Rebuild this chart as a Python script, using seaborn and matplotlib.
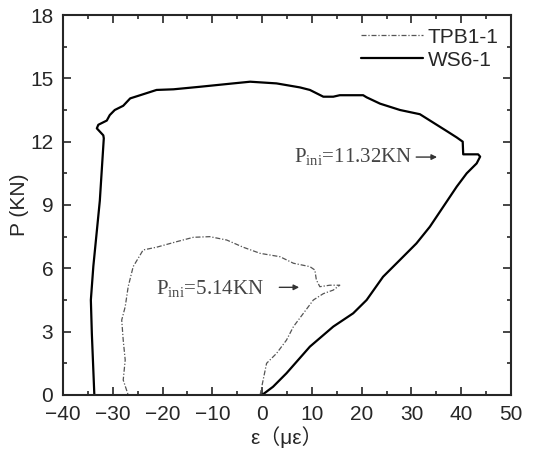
import pandas as pd
import matplotlib
matplotlib.use("Agg")
import matplotlib.pyplot as plt
import seaborn as sns

# WS6-1 loop (strain, load)
ws_eps = [0, 2.2, 4.9, 9.6, 14.3, 18.3, 21.0, 24.3, 27.7, 31.0, 33.7, 36.4, 39.1, 41.1,
          43.1, 43.8, 43.4, 40.4, 40.3, 39.1, 37.1, 34.4, 31.7, 27.7, 23.7, 21.0, 20.3,
          15.6, 14.3, 12.3, 9.6, 7.6, 2.9, -2.4, -5.8, -12.5, -17.8, -21.2, -24.5, -26.5,
          -27.9, -29.6, -30.6, -31.2, -32.9, -33.2, -31.9, -31.8, -32.6, -33.9, -34.4,
          -34.2, -33.7]
ws_p = [0, 0.39, 1.03, 2.29, 3.24, 3.87, 4.5, 5.6, 6.4, 7.18, 7.97, 8.92, 9.87, 10.5,
        10.97, 11.29, 11.4, 11.4, 12.0, 12.2, 12.5, 12.9, 13.3, 13.5, 13.8, 14.1, 14.2,
        14.2, 14.13, 14.13, 14.45, 14.57, 14.76, 14.84, 14.76, 14.6, 14.48, 14.45, 14.2,
        14.05, 13.7, 13.5, 13.26, 13.0, 12.8, 12.63, 12.3, 12.16, 9.2, 6.1, 4.5, 2.9, 0]

# TPB1-1 loop
tpb_eps = [-0.4, 0.2, 0.9, 2.9, 4.9, 6.3, 8.3, 10.3, 12.3, 14.3, 15.6, 13.6, 11.6, 10.9,
           10.6, 9.6, 6.3, 3.6, -0.4, -3.8, -7.1, -10.5, -13.8, -17.2, -21.2, -23.9,
           -24.5, -25.9, -26.9, -27.5, -28.2, -27.9, -27.5, -27.9, -26.9]
tpb_p = [0, 0.7, 1.5, 1.97, 2.6, 3.24, 3.87, 4.5, 4.8, 4.97, 5.2, 5.2, 5.13, 5.45, 5.92,
         6.08, 6.24, 6.55, 6.71, 7.0, 7.34, 7.5, 7.47, 7.26, 7.0, 6.87, 6.63, 6.08, 5.13,
         4.18, 3.55, 2.6, 1.66, 0.71, 0]

ws = pd.DataFrame({"eps": ws_eps, "P": ws_p})
tpb = pd.DataFrame({"eps": tpb_eps, "P": tpb_p})

sns.set_style("ticks")
plt.rcParams['font.family'] = ['Liberation Sans', 'Noto Sans CJK SC', 'DejaVu Sans']
plt.rcParams['axes.linewidth'] = 1.5

fig = plt.figure(figsize=(5.51, 4.63), dpi=100)
ax = fig.add_axes([0.1143, 0.1469, 0.8131, 0.8207])

sns.lineplot(data=tpb, x="eps", y="P", sort=False, estimator=None, ax=ax,
             color="#555555", lw=0.9, linestyle=(0, (4, 1.5, 1, 1.5)), label="TPB1-1")
sns.lineplot(data=ws, x="eps", y="P", sort=False, estimator=None, ax=ax,
             color="black", lw=1.6, label="WS6-1")

ax.set_xlim(-40, 50)
ax.set_ylim(0, 18)
ax.set_xticks(range(-40, 51, 10))
ax.set_xticks(range(-35, 50, 10), minor=True)
ax.set_yticks(range(0, 19, 3))
ax.set_yticks([1.5 + 3 * i for i in range(6)], minor=True)
ax.tick_params(which="both", direction="in", top=True, right=True, labelsize=15, width=1.2)
ax.tick_params(which="major", length=6)
ax.tick_params(which="minor", length=3)
ax.tick_params(axis="x", pad=7)
ax.tick_params(axis="y", pad=7)
ax.set_xlabel("ε（με）", fontsize=15, labelpad=2)
ax.set_ylabel("P (KN)", fontsize=15, labelpad=1)

ax.legend(loc="upper right", frameon=False, fontsize=15, handlelength=3.0,
          handletextpad=0.2, borderaxespad=0.2, labelspacing=0.2)

serif = ['Liberation Serif', 'DejaVu Serif']
ax.annotate("", xy=(35.7, 11.27), xytext=(30.4, 11.27),
            arrowprops=dict(arrowstyle="-|>", color="#333333", lw=1, mutation_scale=8))
ax.text(30.1, 11.27, r"P$_{\mathregular{ini}}$=11.32KN", fontsize=15, color="#444444",
        family=serif, va="center", ha="right")
ax.annotate("", xy=(8.0, 5.1), xytext=(2.9, 5.1),
            arrowprops=dict(arrowstyle="-|>", color="#333333", lw=1, mutation_scale=8))
ax.text(0.4, 5.0, r"P$_{\mathregular{ini}}$=5.14KN", fontsize=15, color="#444444",
        family=serif, va="center", ha="right")

fig.savefig("out.png", dpi=100)
